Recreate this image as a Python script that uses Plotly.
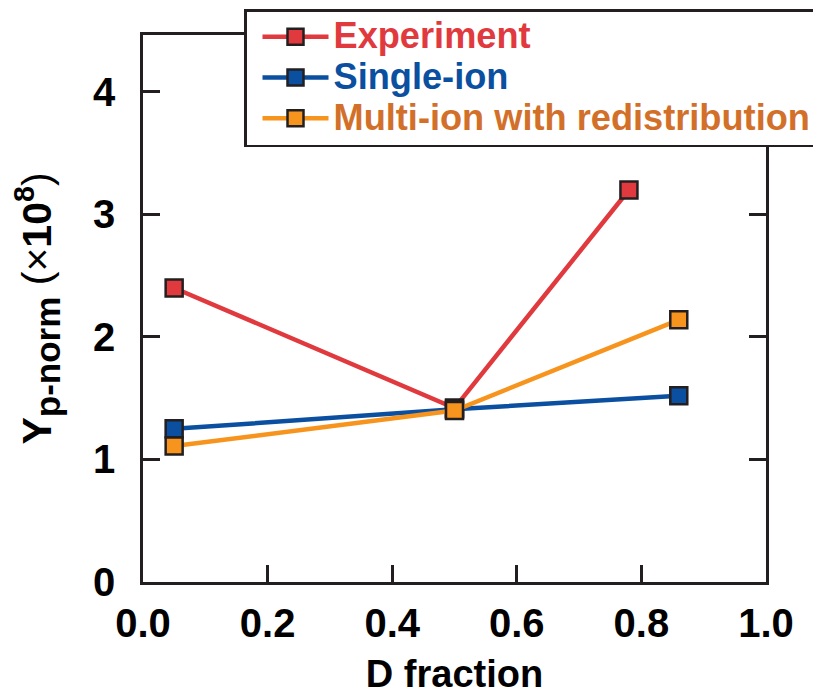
import plotly.graph_objects as go

exp_x = [0.05, 0.5, 0.78]
exp_y = [2.40, 1.42, 3.20]
single_x = [0.05, 0.5, 0.86]
single_y = [1.25, 1.41, 1.52]
multi_x = [0.05, 0.5, 0.86]
multi_y = [1.11, 1.40, 2.14]
x_ticks = [0.0, 0.2, 0.4, 0.6, 0.8, 1.0]
x_labels = ["0.0", "0.2", "0.4", "0.6", "0.8", "1.0"]
y_ticks = [0, 1, 2, 3, 4]

RED = "#e03a3e"
BLUE = "#0b4fa0"
ORANGE = "#f7941d"
ORANGE_TXT = "#d2702a"
DARK = "#231f20"
FONT = "Liberation Sans"

# page body has an 8px margin; figure placed so that screen coords match
OFF = 8
W, H = 821, 697
L, R, T, B = 143 - OFF, 766 - OFF, 35 - OFF, 582 - OFF

fig = go.Figure()

def add(x, y, color, name, txtcolor):
    fig.add_trace(go.Scatter(
        x=x, y=y, mode="lines+markers",
        name=f'<b><span style="color:{txtcolor};font-size:36.2px">{name}</span></b>',
        line=dict(color=color, width=4.5),
        marker=dict(symbol="square", size=17, color=color,
                    line=dict(color=DARK, width=2.5)),
    ))

add(exp_x, exp_y, RED, "Experiment", RED)
add(single_x, single_y, BLUE, "Single-ion", BLUE)
add(multi_x, multi_y, ORANGE, "Multi-ion with redistribution", ORANGE_TXT)

axis_common = dict(
    showline=True, linecolor=DARK, linewidth=2.5, mirror="allticks",
    ticks="inside", ticklen=17, tickwidth=2.5, tickcolor=DARK,
    showgrid=False, zeroline=False, automargin=False,
    tickfont=dict(family=FONT, size=40, color="black", weight="bold"),
)

fig.update_layout(
    width=W, height=H,
    margin=dict(l=0, r=0, t=0, b=0, autoexpand=False),
    paper_bgcolor="white", plot_bgcolor="white",
    font=dict(family=FONT, color="black"),
    xaxis=dict(range=[0, 1.0], tickvals=x_ticks, ticktext=x_labels,
               domain=[L / W, R / W],
               ticklabelstandoff=4,
               title=dict(text="<b>D fraction</b>",
                          font=dict(family=FONT, size=38, color="black"),
                          standoff=17),
               **axis_common),
    yaxis=dict(range=[0, 4.465], tickvals=y_ticks,
               domain=[(H - B) / H, (H - T) / H],
               ticklabelstandoff=17,
               title=dict(text='<b>Y<sub><span style="font-size:35px">p-norm</span></sub></b> (×<b>10<sup>8</sup></b>)',
                          font=dict(family=FONT, size=41, color="black"),
                          standoff=38),
               **axis_common),
    legend=dict(
        x=(244 - OFF) / W, y=1 - (9 - OFF) / H, xanchor="left", yanchor="top",
        bgcolor="white", bordercolor=DARK, borderwidth=2.5,
        font=dict(family=FONT, size=29),
        itemwidth=66, indentation=11, tracegroupgap=0,
    ),
    showlegend=True,
)

fig.write_html("out.html")
